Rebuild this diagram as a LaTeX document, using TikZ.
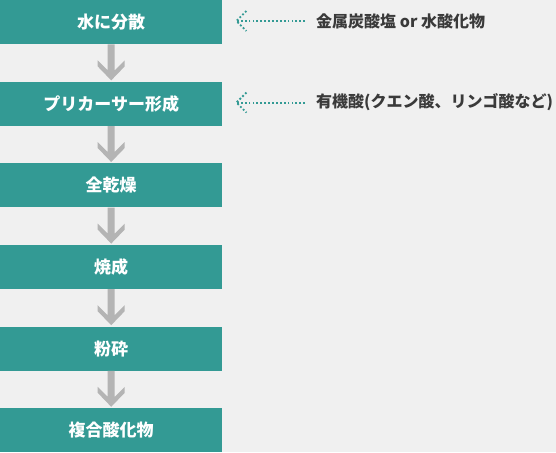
\documentclass[tikz,border=0pt]{standalone}
\usepackage{fontspec}
\setmainfont{Noto Sans CJK JP}
\usetikzlibrary{calc}

\definecolor{pageback}{HTML}{F0F0F0}
\definecolor{stepteal}{HTML}{339A94}
\definecolor{flowgray}{HTML}{B4B4B4}
\definecolor{notegray}{HTML}{3A3A3A}

\begin{document}
\begin{tikzpicture}[x=1pt, y=-1pt,
    stepbox/.style={fill=stepteal, text=white, font=\fontsize{17}{20}\selectfont\bfseries,
        minimum width=222pt, minimum height=44pt, inner sep=0pt, anchor=north west},
    notetext/.style={text=notegray, font=\fontsize{16}{19}\selectfont\bfseries,
        inner sep=0pt, anchor=west},
    dotline/.style={stepteal, line width=1.8pt, dash pattern=on 1.8pt off 2.1pt}]

    % background fixes the page size
    \fill[pageback] (0,0) rectangle (556,452);

    % process steps
    \node[stepbox] (disperse)  at (0,0)     {水に分散};
    \node[stepbox] (precursor) at (0,81.6)  {プリカーサー形成};
    \node[stepbox] (drying)    at (0,163.2) {全乾燥};
    \node[stepbox] (firing)    at (0,244.8) {焼成};
    \node[stepbox] (grinding)  at (0,326.4) {粉砕};
    \node[stepbox] (oxide)     at (0,408)   {複合酸化物};

    % gray arrows between the steps
    \foreach \from/\to in {disperse/precursor, precursor/drying, drying/firing,
                           firing/grinding, grinding/oxide}
        \fill[flowgray, shift={(\from.south)}]
            (-3.5,0) -- (3.5,0) -- (3.5,26) -- (13.5,16) -- (13.5,22) -- (0,36)
            -- (-13.5,22) -- (-13.5,16) -- (-3.5,26) -- cycle;

    % inputs
    \node[notetext] (salt) at (316,21)   {金属炭酸塩 or 水酸化物};
    \node[notetext] (acid) at (316,102.6) {有機酸(クエン酸、リンゴ酸など)};

    \foreach \note/\step in {salt/disperse, acid/precursor} {
        \coordinate (\note tip) at ($(\note.west -| \step.east)+(14,0)$);
        \draw[dotline] ($(\note.west)+(-11,0)$) -- (\note tip);
        \draw[dotline] ($(\note tip)+(10,-10)$) -- (\note tip) -- ($(\note tip)+(10,10)$);
    }
\end{tikzpicture}
\end{document}
